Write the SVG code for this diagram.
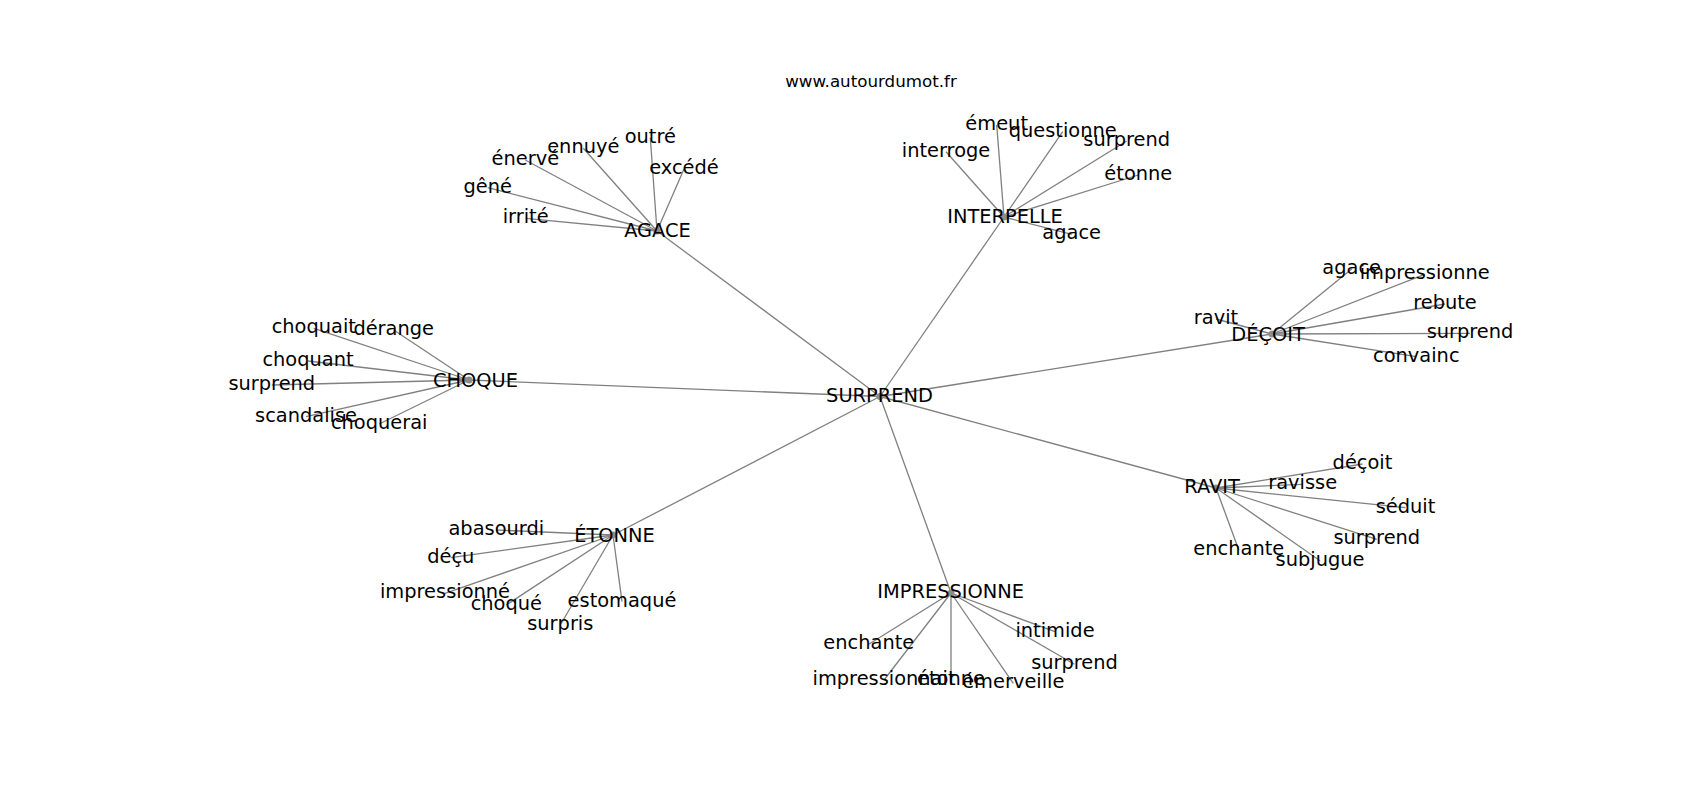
<svg xmlns="http://www.w3.org/2000/svg" width="1700" height="800" viewBox="0 0 1700 800">
<style>
text{font-family:"DejaVu Sans","Liberation Sans",sans-serif;font-size:19.4px;fill:#000;text-anchor:middle}
.title{font-size:16.7px}
.e line{stroke:#808080;stroke-width:1.3}
.dot{fill:#8c8c8c}
</style>
<rect width="1700" height="800" fill="#fff"/>
<text class="title" x="871" y="87">www.autourdumot.fr</text>
<g class="e" id="connectors">
<line x1="880" y1="396.5" x2="657" y2="231"/>
<line x1="880" y1="396.5" x2="1004" y2="217"/>
<line x1="880" y1="396.5" x2="1272" y2="334"/>
<line x1="880" y1="396.5" x2="1216" y2="488"/>
<line x1="880" y1="396.5" x2="951" y2="593"/>
<line x1="880" y1="396.5" x2="613" y2="535"/>
<line x1="880" y1="396.5" x2="469" y2="380"/>
<line x1="657" y1="231" x2="650.3" y2="137.7"/>
<line x1="657" y1="231" x2="684" y2="169"/>
<line x1="657" y1="231" x2="583.3" y2="148.3"/>
<line x1="657" y1="231" x2="525.3" y2="160"/>
<line x1="657" y1="231" x2="487.7" y2="187.7"/>
<line x1="657" y1="231" x2="525.7" y2="218.3"/>
<line x1="1004" y1="217" x2="996.7" y2="125"/>
<line x1="1004" y1="217" x2="1062.7" y2="131.7"/>
<line x1="1004" y1="217" x2="1126.7" y2="141"/>
<line x1="1004" y1="217" x2="1138.3" y2="175"/>
<line x1="1004" y1="217" x2="946" y2="151.7"/>
<line x1="1004" y1="217" x2="1071.7" y2="234.3"/>
<line x1="1272" y1="334" x2="1351.7" y2="269"/>
<line x1="1272" y1="334" x2="1424.7" y2="274.3"/>
<line x1="1272" y1="334" x2="1445" y2="304"/>
<line x1="1272" y1="334" x2="1470" y2="333.3"/>
<line x1="1272" y1="334" x2="1416.3" y2="356.7"/>
<line x1="1272" y1="334" x2="1216" y2="319"/>
<line x1="469" y1="380" x2="313.8" y2="328.3"/>
<line x1="469" y1="380" x2="393.7" y2="330"/>
<line x1="469" y1="380" x2="308" y2="361"/>
<line x1="469" y1="380" x2="271.8" y2="385"/>
<line x1="469" y1="380" x2="306" y2="416.7"/>
<line x1="469" y1="380" x2="379.2" y2="424"/>
<line x1="1216" y1="488" x2="1362.5" y2="464"/>
<line x1="1216" y1="488" x2="1302.7" y2="484.3"/>
<line x1="1216" y1="488" x2="1405.5" y2="507.7"/>
<line x1="1216" y1="488" x2="1376.8" y2="539.3"/>
<line x1="1216" y1="488" x2="1238.8" y2="550"/>
<line x1="1216" y1="488" x2="1320" y2="560.7"/>
<line x1="613" y1="535" x2="496.3" y2="530"/>
<line x1="613" y1="535" x2="450.8" y2="557.7"/>
<line x1="613" y1="535" x2="445" y2="593.3"/>
<line x1="613" y1="535" x2="506.3" y2="605"/>
<line x1="613" y1="535" x2="622" y2="601.7"/>
<line x1="613" y1="535" x2="560.3" y2="625"/>
<line x1="951" y1="593" x2="868.8" y2="644.3"/>
<line x1="951" y1="593" x2="884" y2="680"/>
<line x1="951" y1="593" x2="951" y2="680"/>
<line x1="951" y1="593" x2="1013.3" y2="683.3"/>
<line x1="951" y1="593" x2="1055" y2="631.7"/>
<line x1="951" y1="593" x2="1074.5" y2="664.3"/>
</g>
<g id="n-surprend"><circle class="dot" cx="880" cy="396.5" r="3.5"/><text x="879.5" y="401.7">SURPREND</text></g>
<g id="n-agace"><circle class="dot" cx="657" cy="231" r="3.5"/><text x="657.5" y="236.5">AGACE</text></g>
<g id="n-interpelle"><circle class="dot" cx="1004" cy="217" r="3.5"/><text x="1005" y="223.3">INTERPELLE</text></g>
<g id="n-decoit"><circle class="dot" cx="1272" cy="334" r="3.5"/><text x="1268" y="340.7">DÉÇOIT</text></g>
<g id="n-choque"><circle class="dot" cx="469" cy="380" r="3.5"/><text x="475.5" y="386.7">CHOQUE</text></g>
<g id="n-ravit"><circle class="dot" cx="1216" cy="488" r="3.5"/><text x="1212" y="493.3">RAVIT</text></g>
<g id="n-etonne"><circle class="dot" cx="613" cy="535" r="3.5"/><text x="614.5" y="542.3">ÉTONNE</text></g>
<g id="n-impressionne"><circle class="dot" cx="951" cy="593" r="3.5"/><text x="950.7" y="598.3">IMPRESSIONNE</text></g>
<g id="agace-leaves">
<g id="a1"><text x="650.3" y="142.7">outré</text></g>
<g id="a2"><text x="684" y="174">excédé</text></g>
<g id="a3"><text x="583.3" y="153.3">ennuyé</text></g>
<g id="a4"><text x="525.3" y="165">énervé</text></g>
<g id="a5"><text x="487.7" y="192.7">gêné</text></g>
<g id="a6"><text x="525.7" y="223.3">irrité</text></g>
</g>
<g id="interpelle-leaves">
<g id="i1"><text x="996.7" y="130">émeut</text></g>
<g id="i2"><text x="1062.7" y="136.7">questionne</text></g>
<g id="i3"><text x="1126.7" y="146">surprend</text></g>
<g id="i4"><text x="1138.3" y="180">étonne</text></g>
<g id="i5"><text x="946" y="156.7">interroge</text></g>
<g id="i6"><text x="1071.7" y="239.3">agace</text></g>
</g>
<g id="decoit-leaves">
<g id="d1"><text x="1351.7" y="274">agace</text></g>
<g id="d2"><text x="1424.7" y="279.3">impressionne</text></g>
<g id="d3"><text x="1445" y="309">rebute</text></g>
<g id="d4"><text x="1470" y="338.3">surprend</text></g>
<g id="d5"><text x="1416.3" y="361.7">convainc</text></g>
<g id="d6"><text x="1216" y="324">ravit</text></g>
</g>
<g id="choque-leaves">
<g id="c1"><text x="313.8" y="333.3">choquait</text></g>
<g id="c2"><text x="393.7" y="335">dérange</text></g>
<g id="c3"><text x="308" y="366">choquant</text></g>
<g id="c4"><text x="271.8" y="390">surprend</text></g>
<g id="c5"><text x="306" y="421.7">scandalise</text></g>
<g id="c6"><text x="379.2" y="429">choquerai</text></g>
</g>
<g id="ravit-leaves">
<g id="r1"><text x="1362.5" y="469">déçoit</text></g>
<g id="r2"><text x="1302.7" y="489.3">ravisse</text></g>
<g id="r3"><text x="1405.5" y="512.7">séduit</text></g>
<g id="r4"><text x="1376.8" y="544.3">surprend</text></g>
<g id="r5"><text x="1238.8" y="555">enchante</text></g>
<g id="r6"><text x="1320" y="565.7">subjugue</text></g>
</g>
<g id="etonne-leaves">
<g id="e1"><text x="496.3" y="535">abasourdi</text></g>
<g id="e2"><text x="450.8" y="562.7">déçu</text></g>
<g id="e3"><text x="445" y="598.3">impressionné</text></g>
<g id="e4"><text x="506.3" y="610">choqué</text></g>
<g id="e5"><text x="622" y="606.7">estomaqué</text></g>
<g id="e6"><text x="560.3" y="630">surpris</text></g>
</g>
<g id="impressionne-leaves">
<g id="p1"><text x="868.8" y="649.3">enchante</text></g>
<g id="p2"><text x="884" y="685">impressionnait</text></g>
<g id="p3"><text x="951" y="685">étonne</text></g>
<g id="p4"><text x="1013.3" y="688.3">émerveille</text></g>
<g id="p5"><text x="1055" y="636.7">intimide</text></g>
<g id="p6"><text x="1074.5" y="669.3">surprend</text></g>
</g>
</svg>
